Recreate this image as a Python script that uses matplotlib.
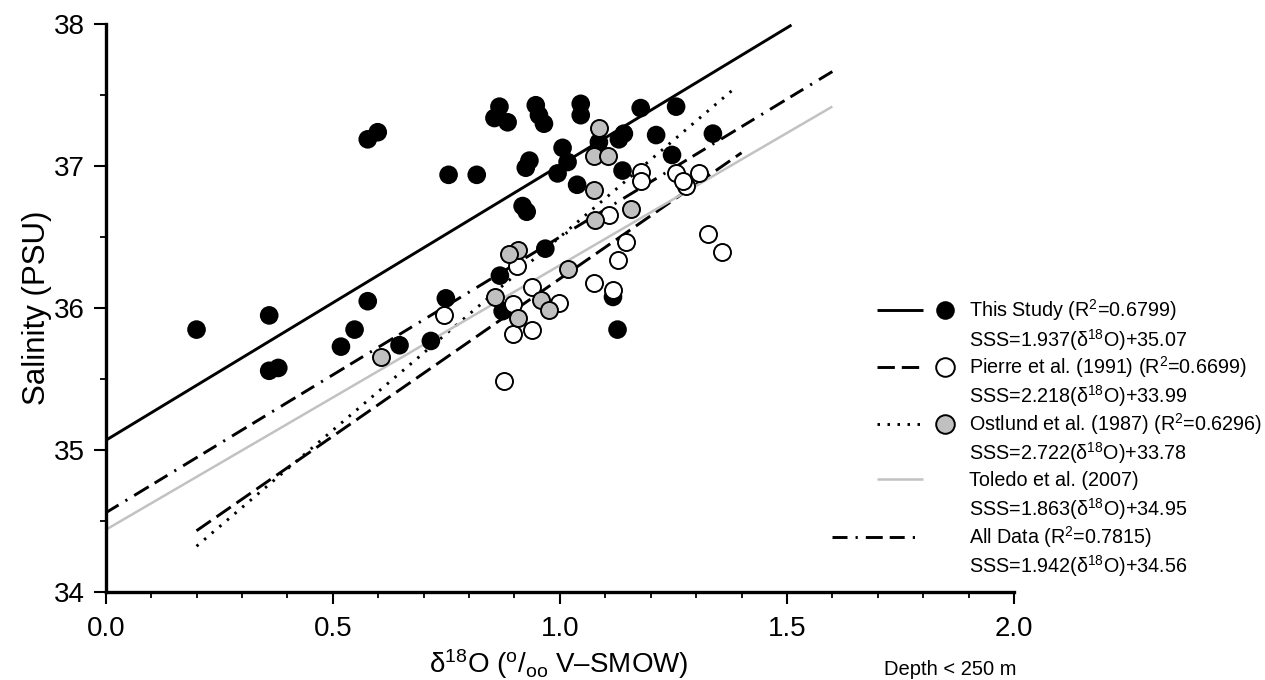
import numpy as np
import matplotlib
matplotlib.use('Agg')
import matplotlib.pyplot as plt
from matplotlib.lines import Line2D

plt.rcParams['font.family'] = ['Liberation Sans', 'DejaVu Sans']
plt.rcParams['mathtext.fontset'] = 'custom'
plt.rcParams['mathtext.rm'] = 'Liberation Sans'
plt.rcParams['mathtext.it'] = 'Liberation Sans:italic'
plt.rcParams['mathtext.default'] = 'regular'
plt.rcParams['lines.scale_dashes'] = False

# This Study (filled black)
study_x = [0.20, 0.36, 0.36, 0.38, 0.577, 0.599, 0.577, 0.548, 0.518, 0.755, 0.817, 0.749,
           0.647, 0.716, 0.867, 0.856, 0.885, 0.947, 0.954, 0.965, 1.046, 1.046, 1.178, 1.256,
           1.086, 1.141, 1.13, 1.212, 1.337, 1.247, 1.006, 1.017, 0.995, 0.933, 0.925, 1.138,
           1.038, 0.918, 0.927, 0.968, 0.868, 0.874, 1.117, 1.127]
study_y = [35.85, 35.95, 35.56, 35.58, 37.19, 37.24, 36.05, 35.85, 35.73, 36.94, 36.94, 36.07,
           35.74, 35.77, 37.42, 37.34, 37.31, 37.43, 37.36, 37.30, 37.44, 37.36, 37.41, 37.42,
           37.17, 37.23, 37.19, 37.22, 37.23, 37.08, 37.13, 37.03, 36.95, 37.04, 36.99, 36.97,
           36.87, 36.72, 36.68, 36.42, 36.23, 35.98, 36.08, 35.85]

# Pierre et al. (1991) (open)
pierre_x = [0.746, 1.178, 1.178, 1.256, 1.307, 1.278, 1.271, 1.109, 0.905, 1.146, 1.127,
            1.327, 1.356, 1.075, 1.116, 0.938, 0.897, 0.998, 0.897, 0.938, 0.878]
pierre_y = [35.95, 36.96, 36.90, 36.955, 36.95, 36.86, 36.90, 36.66, 36.30, 36.47, 36.34,
            36.52, 36.40, 36.18, 36.13, 36.15, 36.03, 36.04, 35.82, 35.85, 35.49]

# Ostlund et al. (1987) (grey)
ostlund_x = [0.607, 1.086, 1.075, 1.107, 1.075, 1.078, 1.156, 0.907, 0.887, 1.017, 0.858,
             0.958, 0.976, 0.908]
ostlund_y = [35.66, 37.27, 37.07, 37.07, 36.83, 36.62, 36.70, 36.41, 36.38, 36.28, 36.08,
             36.06, 35.99, 35.93]

# regression lines
fit_slope = [1.937, 2.218, 2.722, 1.863, 1.942]
fit_icpt = [35.07, 33.99, 33.78, 34.44, 34.56]
fit_xstart = [0.0, 0.2, 0.2, 0.0, 0.0]
fit_xend = [1.51, 1.4, 1.39, 1.6, 1.6]

label_top = ['This Study (R$^2$=0.6799)',
             'Pierre et al. (1991) (R$^2$=0.6699)',
             'Ostlund et al. (1987) (R$^2$=0.6296)',
             'Toledo et al. (2007)',
             'All Data (R$^2$=0.7815)']
label_eq = ['SSS=1.937(δ$^{18}$O)+35.07',
            'SSS=2.218(δ$^{18}$O)+33.99',
            'SSS=2.722(δ$^{18}$O)+33.78',
            'SSS=1.863(δ$^{18}$O)+34.95',
            'SSS=1.942(δ$^{18}$O)+34.56']

xtick_vals = [0.0, 0.5, 1.0, 1.5, 2.0]
xtick_labels = ['0.0', '0.5', '1.0', '1.5', '2.0']
ytick_vals = [34, 35, 36, 37, 38]

line_col = ['black', 'black', 'black', '#c2c2c2', 'black']
line_lw = [2.1, 2.1, 2.1, 1.8, 2.1]
line_dash = [None, (12.5, 5.0), (1.8, 5.4), None, (10.8, 5.8, 1.6, 5.8, 12.2, 5.0)]
mark_face = ['black', 'white', '#c0c0c0', None, None]

W, H = 1265, 680
fig = plt.figure(figsize=(W / 100, H / 100), dpi=100)
ax = fig.add_axes([105.7 / W, 1 - 592.3 / H, (1014 - 105.7) / W, (592.3 - 24.3) / H])

for i in range(5):
    xs = np.array([fit_xstart[i], fit_xend[i]])
    ln, = ax.plot(xs, fit_slope[i] * xs + fit_icpt[i], color=line_col[i], lw=line_lw[i],
                  solid_capstyle='butt', dash_capstyle='butt', zorder=2, clip_on=False)
    if line_dash[i] is not None:
        ln.set_dashes(line_dash[i])

ax.scatter(study_x, study_y, s=180, c='black', edgecolors='none', zorder=3, clip_on=False)
ax.scatter(pierre_x, pierre_y, s=150, c='white', edgecolors='black', linewidths=1.4, zorder=4)
ax.scatter(ostlund_x, ostlund_y, s=150, c='#c0c0c0', edgecolors='black', linewidths=1.4, zorder=5)

ax.set_xlim(0, 2.0)
ax.set_ylim(34, 38)
ax.set_xticks(xtick_vals)
ax.set_xticklabels(xtick_labels)
ax.set_xticks(np.arange(0, 2.01, 0.1), minor=True)
ax.set_yticks(ytick_vals)
ax.set_yticks(np.arange(34, 38.01, 0.5), minor=True)
ax.tick_params(which='major', direction='out', length=8.5, width=1.5, labelsize=20)
ax.tick_params(axis='x', which='major', pad=8.5)
ax.tick_params(axis='y', which='major', pad=6.5)
ax.tick_params(which='minor', direction='out', length=4.5, width=1.3)
for s in ['top', 'right']:
    ax.spines[s].set_visible(False)
for s in ['left', 'bottom']:
    ax.spines[s].set_linewidth(2.4)

fig.text(37 / W, 1 - 308 / H, 'Salinity (PSU)', rotation=90, ha='center', va='center', fontsize=22.5)
fig.text(559 / W, 1 - 673 / H, 'δ$^{18}$O ($^{o}$/$_{oo}$ V–SMOW)', ha='center', va='baseline', fontsize=20)
fig.text(1016 / W, 1 - 675 / H, 'Depth < 250 m', ha='right', va='baseline', fontsize=14.5)

# legend, drawn by hand
row_top = [310, 367.3, 424, 479, 536.7]
row_eq = [340, 396, 452.7, 508.3, 566]
for i in range(5):
    x0 = 831.7 if i == 4 else 876.7
    x1 = 916.7 if i == 4 else 922.7
    yy = 1 - row_top[i] / H
    hl = Line2D([x0 / W, x1 / W], [yy, yy], transform=fig.transFigure, color=line_col[i],
                lw=line_lw[i], solid_capstyle='butt', dash_capstyle='butt')
    if line_dash[i] is not None:
        hl.set_dashes(line_dash[i])
    fig.add_artist(hl)
    if mark_face[i] is not None:
        fig.add_artist(Line2D([945 / W], [yy], transform=fig.transFigure, marker='o', ms=13.4,
                              mfc=mark_face[i], mec='black', mew=0 if i == 0 else 1.4, ls='none'))
    fig.text(968.7 / W, 1 - (row_top[i] + 7) / H, label_top[i], fontsize=14.2, va='baseline')
    fig.text(968.7 / W, 1 - (row_eq[i] + 7) / H, label_eq[i], fontsize=14.2, va='baseline')

fig.savefig('out.png', dpi=100)
